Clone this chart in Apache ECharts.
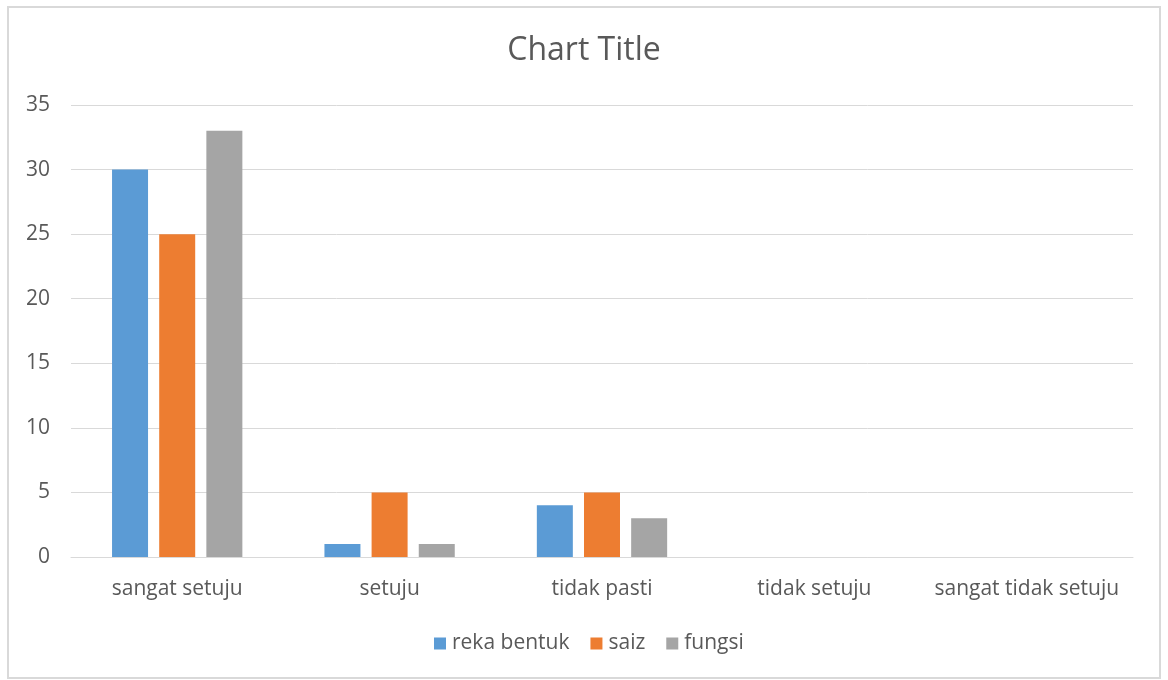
<!DOCTYPE html>
<html>
<head>
<meta charset="utf-8">
<script src="https://cdn.jsdelivr.net/npm/echarts@6/dist/echarts.min.js"></script>
<style>
  html, body { margin: 0; padding: 0; background: #ffffff; }
  #chart { width: 1168px; height: 680px; }
</style>
</head>
<body>
<div id="chart"></div>
<script>
// Survey responses per answer category
const categories = ['sangat setuju', 'setuju', 'tidak pasti', 'tidak setuju', 'sangat tidak setuju'];
const rekaBentuk = [30, 1, 4, 0, 0];
const saiz = [25, 5, 5, 0, 0];
const fungsi = [33, 1, 3, 0, 0];
const yTicks = { min: 0, max: 35, interval: 5 };

const font = '"Open Sans", "Noto Sans", sans-serif';
const textColor = '#595959';

const chart = echarts.init(document.getElementById('chart'), null, { renderer: 'canvas' });

function barSeries(name, data, color) {
  return {
    name: name,
    type: 'bar',
    data: data,
    barWidth: 36,
    barGap: '31%',
    itemStyle: { color: color },
    emphasis: { disabled: true }
  };
}

chart.setOption({
  backgroundColor: '#ffffff',
  animation: false,
  title: {
    text: 'Chart Title',
    left: 'center',
    top: 30,
    textStyle: { fontFamily: font, fontSize: 32, fontWeight: 'normal', color: textColor }
  },
  graphic: [{
    type: 'rect',
    shape: { x: 8, y: 7, width: 1152, height: 671 },
    style: { fill: 'none', stroke: '#d9d9d9', lineWidth: 2 },
    silent: true
  }],
  legend: {
    top: 633,
    left: 434,
    padding: 0,
    itemWidth: 12,
    itemHeight: 12,
    itemGap: 21,
    icon: 'rect',
    textStyle: { fontFamily: font, fontSize: 21, color: textColor, padding: [0, 0, 0, 1] },
    data: ['reka bentuk', 'saiz', 'fungsi']
  },
  grid: { left: 71, right: 35, top: 105, bottom: 123 },
  xAxis: {
    type: 'category',
    data: categories,
    axisLine: { lineStyle: { color: '#d9d9d9', width: 1 } },
    axisTick: { show: false },
    axisLabel: { interval: 0, fontFamily: font, fontSize: 21, color: textColor, margin: 22 }
  },
  yAxis: {
    type: 'value',
    min: yTicks.min,
    max: yTicks.max,
    interval: yTicks.interval,
    axisLine: { show: false },
    axisTick: { show: false },
    splitLine: { lineStyle: { color: '#d9d9d9', width: 1 } },
    axisLabel: { fontFamily: font, fontSize: 21, color: textColor, margin: 21 }
  },
  series: [
    barSeries('reka bentuk', rekaBentuk, '#5b9bd5'),
    barSeries('saiz', saiz, '#ed7d31'),
    barSeries('fungsi', fungsi, '#a5a5a5')
  ]
});
</script>
</body>
</html>
